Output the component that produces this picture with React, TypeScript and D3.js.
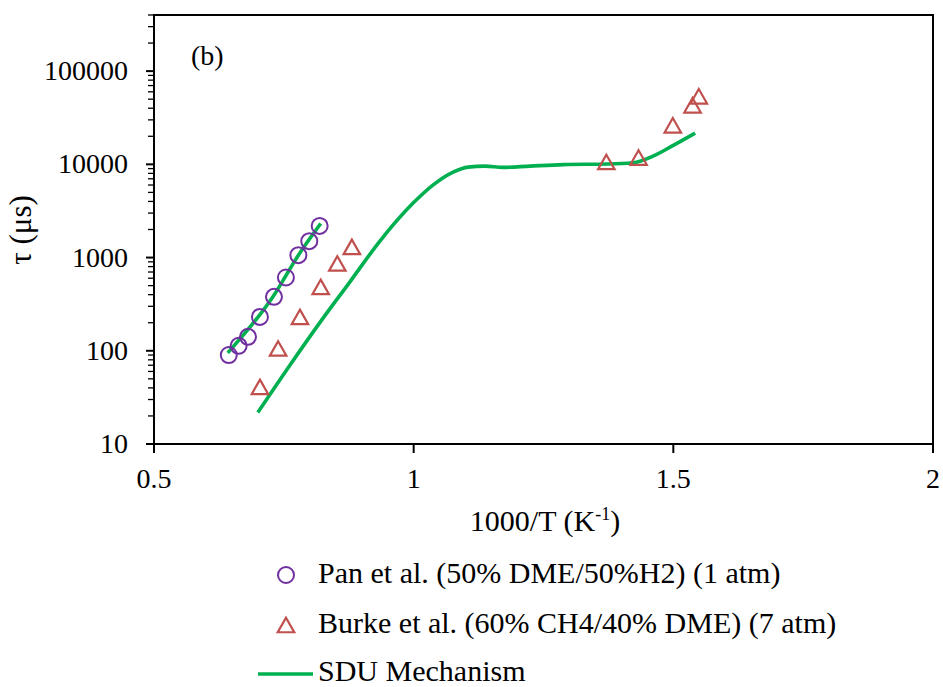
import React from "react";
import * as d3 from "d3";

// ---- data ----
const panX = [0.644, 0.663, 0.681, 0.704, 0.731, 0.754, 0.778, 0.799, 0.819];
const panTau = [90, 113, 141, 231, 379, 611, 1061, 1500, 2187];

const burkeX = [0.704, 0.739, 0.781, 0.821, 0.853, 0.881, 1.371, 1.433, 1.499, 1.537, 1.549];
const burkeTau = [41, 106, 231, 485, 865, 1303, 10610, 11830, 26240, 42990, 53700];

const sduPanX = [0.642, 0.729, 0.778, 0.821];
const sduPanTau = [95, 379, 1061, 2317];

const sduX = [0.700, 0.762, 0.820, 0.877, 0.935, 0.999, 1.037, 1.076, 1.105, 1.137, 1.172, 1.224, 1.288, 1.372, 1.422, 1.461, 1.499, 1.542];
const sduTau = [21.8, 70.4, 203, 546, 1503, 3840, 5990, 8260, 9340, 9580, 9270, 9580, 9940, 10070, 10400, 12250, 15880, 21630];

const xTicks = [0.5, 1, 1.5, 2];
const xTickLabels = ["0.5", "1", "1.5", "2"];
const yTicks = [10, 100, 1000, 10000, 100000];
const yTickLabels = ["10", "100", "1000", "10000", "100000"];

const legendLabels = [
  "Pan et al. (50% DME/50%H2) (1 atm)",
  "Burke et al. (60% CH4/40% DME) (7 atm)",
  "SDU Mechanism",
];

const FONT = "'Liberation Serif', 'Times New Roman', serif";
const GREEN = "#00b050";
const PURPLE = "#7030a0";
const RED = "#c0504d";

export default function App() {
  const left = 154, right = 933, top = 15, bottom = 444;
  const x = d3.scaleLinear().domain([0.5, 2]).range([left, right]);
  const y = d3.scaleLog().domain([10, 400000]).range([bottom, top]);

  const minor: number[] = [];
  for (let e = 1; e <= 5; e++) {
    for (let m = 2; m <= 9; m++) {
      const v = m * Math.pow(10, e);
      if (v <= 400000) minor.push(v);
    }
  }

  const lineGen = d3
    .line<[number, number]>()
    .x((d) => x(d[0]))
    .y((d) => y(d[1]))
    .curve(d3.curveMonotoneX);

  const sduPts: [number, number][] = sduX.map((v, i) => [v, sduTau[i]]);
  const sduPanPts: [number, number][] = sduPanX.map((v, i) => [v, sduPanTau[i]]);

  const tri = (cx: number, cy: number, w = 16.5, h = 14.5) =>
    `M${cx},${cy - h / 2}L${cx + w / 2},${cy + h / 2}L${cx - w / 2},${cy + h / 2}Z`;

  return (
    <svg
      width={943}
      height={687}
      style={{ position: "absolute", left: 0, top: 0, background: "#fff" }}
      fontFamily={FONT}
    >
      <rect x={0} y={0} width={943} height={687} fill="#fff" />
      {/* frame */}
      <rect x={left} y={top} width={right - left} height={bottom - top} fill="none" stroke="#000" strokeWidth={2} />

      {/* y minor ticks */}
      {minor.map((v, i) => (
        <line key={"mn" + i} x1={left - 6} x2={left} y1={y(v)} y2={y(v)} stroke="#000" strokeWidth={1.3} />
      ))}
      {/* y major ticks + labels */}
      {yTicks.map((v, i) => (
        <g key={"yt" + i}>
          <line x1={left - 8} x2={left} y1={y(v)} y2={y(v)} stroke="#000" strokeWidth={2} />
          <text x={128} y={y(v) + 9} textAnchor="end" fontSize={28} fill="#000">
            {yTickLabels[i]}
          </text>
        </g>
      ))}
      {/* x ticks + labels */}
      {xTicks.map((v, i) => (
        <g key={"xt" + i}>
          <line x1={x(v)} x2={x(v)} y1={bottom} y2={bottom + 9} stroke="#000" strokeWidth={2} />
          <text x={x(v)} y={488} textAnchor="middle" fontSize={28} fill="#000">
            {xTickLabels[i]}
          </text>
        </g>
      ))}

      {/* axis titles */}
      <text x={545} y={531} textAnchor="middle" fontSize={30} fill="#000">
        1000/T (K<tspan dy={-11} fontSize={18}>-1</tspan><tspan dy={11}>)</tspan>
      </text>
      <text transform="translate(31,230) rotate(-90)" textAnchor="middle" fontSize={31} fill="#000">
        τ (μs)
      </text>
      <text x={191} y={65} fontSize={28} fill="#000">(b)</text>

      {/* SDU lines */}
      <path d={lineGen(sduPts) || ""} fill="none" stroke={GREEN} strokeWidth={3.6} />
      <path d={lineGen(sduPanPts) || ""} fill="none" stroke={GREEN} strokeWidth={3.6} />

      {/* Pan circles */}
      {panX.map((v, i) => (
        <circle key={"p" + i} cx={x(v)} cy={y(panTau[i])} r={8} fill="none" stroke={PURPLE} strokeWidth={2} />
      ))}
      {/* Burke triangles */}
      {burkeX.map((v, i) => (
        <path key={"b" + i} d={tri(x(v), y(burkeTau[i]))} fill="none" stroke={RED} strokeWidth={2.2} />
      ))}

      {/* legend */}
      <circle cx={286} cy={575} r={8} fill="none" stroke={PURPLE} strokeWidth={2} />
      <text x={318} y={583} fontSize={30} fill="#000">{legendLabels[0]}</text>
      <path d={tri(286, 625)} fill="none" stroke={RED} strokeWidth={2.2} />
      <text x={318} y={633} fontSize={30} fill="#000">{legendLabels[1]}</text>
      <line x1={258} x2={313} y1={674} y2={674} stroke={GREEN} strokeWidth={3.6} />
      <text x={318} y={681} fontSize={30} fill="#000">{legendLabels[2]}</text>
    </svg>
  );
}
